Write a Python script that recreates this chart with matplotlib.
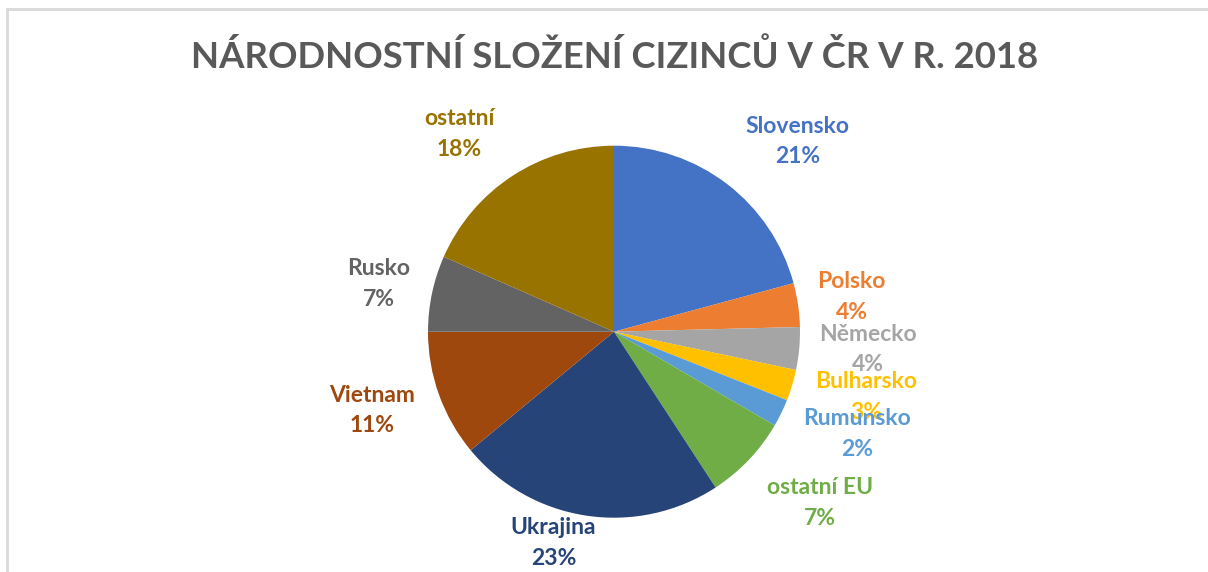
import numpy as np
import matplotlib
matplotlib.use("Agg")
import matplotlib.pyplot as plt
from matplotlib.lines import Line2D

# ---- data ----
categories = ["Slovensko", "Polsko", "Německo", "Bulharsko", "Rumunsko",
              "ostatní EU", "Ukrajina", "Vietnam", "Rusko", "ostatní"]
shares = [20.8, 3.8, 3.7, 2.7, 2.4, 7.4, 23.2, 11.0, 6.6, 18.4]
title = "NÁRODNOSTNÍ SLOŽENÍ CIZINCŮ V ČR V R. 2018"

# ---- styles ----
colors = ["#4472C4", "#ED7D31", "#A5A5A5", "#FFC000", "#5B9BD5",
          "#70AD47", "#264478", "#9E480E", "#636363", "#997300"]
label_dist = [1.42, 1.29, 1.37, 1.40, 1.42, 1.44, 1.18, 1.37, 1.29, 1.35]
label_shift = [6.5, 0.0, -1.2, -2.3, -3.1, -3.9, 7.4, 1.8, -0.4, -4.9]

plt.rcParams['font.family'] = ['Lato', 'DejaVu Sans']

W, H = 1208, 572
fig = plt.figure(figsize=(W / 100, H / 100), dpi=100)
fig.patch.set_facecolor("white")

# frame lines (top and left)
fig.add_artist(Line2D([7 / W, 1], [1 - 9 / H, 1 - 9 / H], color="#D9D9D9", lw=2,
                      transform=fig.transFigure))
fig.add_artist(Line2D([7 / W, 7 / W], [0, 1 - 9 / H], color="#D9D9D9", lw=2,
                      transform=fig.transFigure))

cx, cy, r = 614, 331.7, 186
ax = fig.add_axes([(cx - r) / W, 1 - (cy + r) / H, 2 * r / W, 2 * r / H])

wedges, _ = ax.pie(shares, colors=colors, startangle=90, counterclock=False,
                   radius=1, wedgeprops=dict(linewidth=0))
ax.set_xlim(-1, 1)
ax.set_ylim(-1, 1)
ax.set_aspect("equal")
ax.axis("off")

total = float(sum(shares))
cum = np.cumsum([0] + shares[:-1])
for i, (cat, val) in enumerate(zip(categories, shares)):
    mid_clock = (cum[i] + val / 2) / total * 360 + label_shift[i]
    ang = np.deg2rad(90 - mid_clock)
    x = label_dist[i] * np.cos(ang)
    y = label_dist[i] * np.sin(ang)
    ax.text(x, y, f"{cat}\n{val / total * 100:.0f}%", ha="center", va="center",
            color=colors[i], fontsize=16.5, fontweight="bold", linespacing=1.58,
            clip_on=False)

fig.text(615 / W, 1 - 57 / H, title, ha="center", va="center",
         fontsize=26.3, fontweight="bold", color="#595959")

fig.savefig("out.png", dpi=100, facecolor="white")
